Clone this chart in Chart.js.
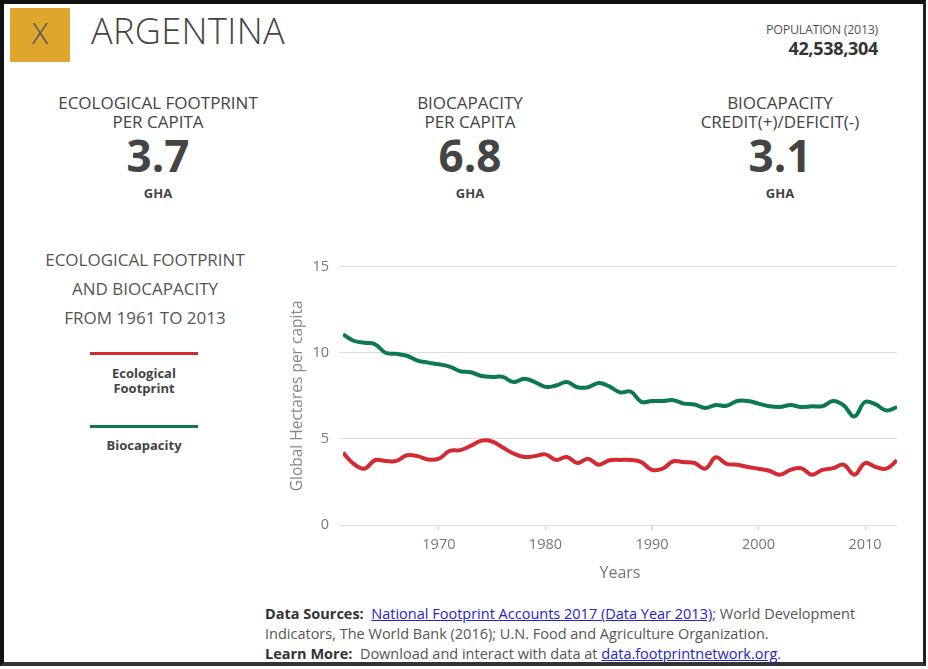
<!DOCTYPE html>
<html>
<head>
<meta charset="utf-8">
<title>Argentina - Ecological Footprint</title>
<script src="https://cdn.jsdelivr.net/npm/chart.js@4/dist/chart.umd.min.js"></script>
<style>
  body { margin: 0; background: #fff; font-family: "Open Sans", "Noto Sans", sans-serif; color: #444; }
  .frame { position: absolute; left: 0; top: 0; width: 919px; height: 658px; border-top: 4px solid #111; border-left: 4px solid #111; border-right: 3px solid #222; border-bottom: 4px solid #333; }
  .abs { position: absolute; }
  .xbox { left: 10px; top: 8px; width: 60px; height: 54px; background: #dda72e; color: #555; font-size: 30px; font-weight: 300; text-align: center; line-height: 50px; }
  .country { left: 91px; top: 6px; font-size: 36px; font-weight: 300; color: #444; letter-spacing: 0.4px; }
  .pop { right: 50px; top: 21px; text-align: right; }
  .pop .lbl { font-size: 12.5px; color: #555; letter-spacing: -0.3px; }
  .pop .val { font-size: 18px; font-weight: 700; color: #333; margin-top: -2px; letter-spacing: -0.3px; }
  .stat { top: 93px; width: 280px; text-align: center; }
  .stat .lbl { font-size: 17px; line-height: 19px; color: #444; letter-spacing: 0px; }
  .stat .num { font-size: 44px; font-weight: 700; color: #444; line-height: 50px; margin-top: -1px; }
  .stat .unit { font-size: 13px; font-weight: 700; color: #444; margin-top: 4px; }
  .side { left: 10px; top: 245px; width: 270px; text-align: center; font-size: 17px; line-height: 29px; color: #555; letter-spacing: 0px; }
  .legline { left: 90px; width: 108px; height: 3px; }
  .legtxt { left: 60px; width: 168px; text-align: center; font-size: 13px; font-weight: 700; color: #444; line-height: 15px; }
  .foot { left: 265px; top: 604px; font-size: 14.5px; line-height: 20px; color: #555; letter-spacing: 0px; }
  .foot b { color: #333; }
  .foot a { color: #2222cc; }
  #wrap { left: 280px; top: 248px; width: 625px; height: 340px; }
</style>
</head>
<body>
<div class="frame"></div>
<div class="abs xbox">X</div>
<div class="abs country">ARGENTINA</div>
<div class="abs pop"><div class="lbl">POPULATION (2013)</div><div class="val">42,538,304</div></div>

<div class="abs stat" style="left:18px"><div class="lbl">ECOLOGICAL FOOTPRINT<br>PER CAPITA</div><div class="num">3.7</div><div class="unit">GHA</div></div>
<div class="abs stat" style="left:330px"><div class="lbl">BIOCAPACITY<br>PER CAPITA</div><div class="num">6.8</div><div class="unit">GHA</div></div>
<div class="abs stat" style="left:640px"><div class="lbl">BIOCAPACITY<br>CREDIT(+)/DEFICIT(-)</div><div class="num">3.1</div><div class="unit">GHA</div></div>

<div class="abs side">ECOLOGICAL FOOTPRINT<br>AND BIOCAPACITY<br>FROM 1961 TO 2013</div>
<div class="abs legline" style="top:352px;background:#d42a32"></div>
<div class="abs legtxt" style="top:366px">Ecological<br>Footprint</div>
<div class="abs legline" style="top:425px;background:#0c7a4e"></div>
<div class="abs legtxt" style="top:438px">Biocapacity</div>

<div class="abs" id="wrap"><canvas id="chart" width="625" height="340"></canvas></div>

<div class="abs foot">
  <b>Data Sources:</b>&nbsp; <a href="#">National Footprint Accounts 2017 (Data Year 2013)</a>; World Development<br>
  Indicators, The World Bank (2016); U.N. Food and Agriculture Organization.<br>
  <b>Learn More:</b>&nbsp; Download and interact with data at <a href="#">data.footprintnetwork.org</a>.
</div>

<script>
const years = [1961, 1962, 1963, 1964, 1965, 1966, 1967, 1968, 1969, 1970,
  1971, 1972, 1973, 1974, 1975, 1976, 1977, 1978, 1979, 1980,
  1981, 1982, 1983, 1984, 1985, 1986, 1987, 1988, 1989, 1990,
  1991, 1992, 1993, 1994, 1995, 1996, 1997, 1998, 1999, 2000,
  2001, 2002, 2003, 2004, 2005, 2006, 2007, 2008, 2009, 2010,
  2011, 2012, 2013]

const footprint = [4.2, 3.55, 3.27, 3.76, 3.72, 3.72, 4.05, 4.0, 3.8, 3.85,
  4.3, 4.35, 4.6, 4.9, 4.85, 4.5, 4.15, 3.95, 4.0, 4.1,
  3.78, 3.95, 3.6, 3.85, 3.5, 3.76, 3.78, 3.78, 3.65, 3.2,
  3.27, 3.7, 3.65, 3.6, 3.27, 3.93, 3.55, 3.5, 3.37, 3.27,
  3.15, 2.92, 3.2, 3.3, 2.92, 3.2, 3.3, 3.5, 2.92, 3.6,
  3.37, 3.27, 3.75]

const biocapacity = [11.07, 10.7, 10.58, 10.5, 10.0, 9.94, 9.83, 9.55, 9.43, 9.33,
  9.2, 8.93, 8.87, 8.65, 8.6, 8.6, 8.3, 8.5, 8.3, 8.02,
  8.1, 8.3, 8.0, 8.0, 8.25, 8.05, 7.7, 7.75, 7.15, 7.2,
  7.2, 7.25, 7.05, 7.0, 6.8, 6.97, 6.92, 7.2, 7.2, 7.05,
  6.9, 6.85, 6.97, 6.85, 6.9, 6.9, 7.2, 6.95, 6.3, 7.15,
  7.0, 6.65, 6.85]

const xTicks = [1970, 1980, 1990, 2000, 2010]
const yTicks = [0, 5, 10, 15]

const toPoints = (values) => years.map((year, i) => ({ x: year, y: values[i] }))

const ctx = document.getElementById('chart')

new Chart(ctx, {
  type: 'line',
  data: {
    datasets: [
      {
        label: 'Ecological Footprint',
        data: toPoints(footprint),
        borderColor: '#d42a32',
        borderWidth: 4,
        pointRadius: 0,
        tension: 0.4,
        fill: false
      },
      {
        label: 'Biocapacity',
        data: toPoints(biocapacity),
        borderColor: '#0c7a4e',
        borderWidth: 4,
        pointRadius: 0,
        tension: 0.4,
        fill: false
      }
    ]
  },
  options: {
    responsive: false,
    animation: false,
    layout: {
      padding: { top: 10, right: 8, bottom: 0, left: 0 }
    },
    plugins: {
      legend: { display: false },
      tooltip: { enabled: false }
    },
    scales: {
      x: {
        type: 'linear',
        min: 1961,
        max: 2013,
        afterBuildTicks: (scale) => { scale.ticks = xTicks.map((v) => ({ value: v })) },
        afterFit: (scale) => { scale.height = 63 },
        grid: { display: true, drawOnChartArea: false, drawTicks: true, tickLength: 5, color: '#ccc' },
        border: { display: false },
        ticks: { color: '#777', font: { family: 'Open Sans', size: 14.5 }, padding: 6, maxRotation: 0, callback: (v) => String(v) },
        title: { display: true, text: 'Years', color: '#777', font: { family: 'Open Sans', size: 16 }, padding: { top: 4, bottom: 5 } }
      },
      y: {
        min: 0,
        max: 15,
        afterBuildTicks: (scale) => { scale.ticks = yTicks.map((v) => ({ value: v })) },
        afterFit: (scale) => { scale.width = 63 },
        grid: { color: '#dcdcdc', lineWidth: 1, tickLength: 4 },
        border: { display: false },
        ticks: { color: '#777', font: { family: 'Open Sans', size: 14.5 }, padding: 10 },
        title: { display: true, text: 'Global Hectares per capita', color: '#888', font: { family: 'Open Sans', size: 15.5 }, padding: { top: 8, bottom: 4 } }
      }
    }
  }
})
</script>
</body>
</html>
